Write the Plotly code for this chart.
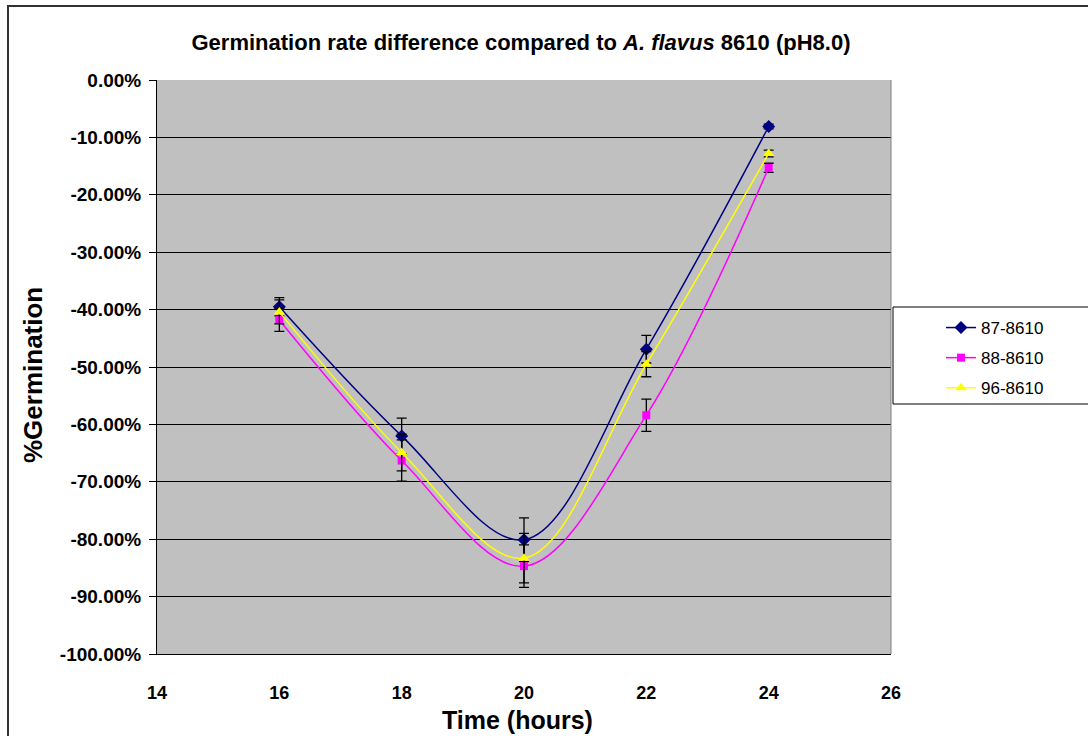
import plotly.graph_objects as go

# Sampling times (hours)
hours = [16, 18, 20, 22, 24]

# Germination rate difference relative to A. flavus 8610 (fraction)
s87 = [-0.395, -0.620, -0.801, -0.469, -0.081]
s88 = [-0.418, -0.663, -0.847, -0.584, -0.153]
s96 = [-0.404, -0.649, -0.833, -0.495, -0.128]

# Error bar half-lengths (fraction)
e87 = [0.016, 0.031, 0.038, 0.024, 0.004]
e88 = [0.020, 0.036, 0.037, 0.028, 0.008]
e96 = [0.021, 0.032, 0.043, 0.022, 0.006]

series_names = ["87-8610", "88-8610", "96-8610"]

y_tickvals = [0.0, -0.1, -0.2, -0.3, -0.4, -0.5, -0.6, -0.7, -0.8, -0.9, -1.0]
y_ticktext = ["0.00%", "-10.00%", "-20.00%", "-30.00%", "-40.00%", "-50.00%",
              "-60.00%", "-70.00%", "-80.00%", "-90.00%", "-100.00%"]
x_tickvals = [14, 16, 18, 20, 22, 24, 26]

FONT = "Liberation Sans, Arial, sans-serif"

styles = [
    dict(color="#000080", symbol="diamond", size=10),
    dict(color="#FF00FF", symbol="square", size=8),
    dict(color="#FFFF00", symbol="triangle-up", size=10),
]

fig = go.Figure()
for name, ys, errs, st in zip(series_names, [s87, s88, s96], [e87, e88, e96], styles):
    fig.add_trace(go.Scatter(
        x=hours, y=ys, name=name, legendgroup=name,
        mode="lines+markers",
        line=dict(color=st["color"], width=1.5, shape="spline", smoothing=1.0),
        marker=dict(color=st["color"], symbol=st["symbol"], size=st["size"],
                    line=dict(width=0)),
        error_y=dict(type="data", array=errs, visible=True,
                     color="black", thickness=1.3, width=5),
    ))

W, H = 1088, 736
L, R, T, B = 157, 197, 80, 82
pw, ph = W - L - R, H - T - B


def px_x(p):
    return (p - L) / pw


def px_y(p):
    return (H - B - p) / ph


fig.update_layout(
    width=W, height=H,
    margin=dict(l=L, r=R, t=T, b=B),
    paper_bgcolor="white",
    plot_bgcolor="#C0C0C0",
    font=dict(family=FONT, color="black"),
    title=dict(
        text="Germination rate difference compared to <i>A. flavus</i> 8610 (pH8.0)",
        font=dict(family=FONT, size=22, weight="bold", color="black"),
        xref="paper", x=px_x(521), xanchor="center",
        yref="container", y=1 - 42 / H, yanchor="middle",
    ),
    xaxis=dict(
        range=[14, 26], tickvals=x_tickvals, ticks="",
        showgrid=False, zeroline=False,
        showline=True, linecolor="black", linewidth=1,
        tickfont=dict(family=FONT, size=18, weight="bold"),
        ticklabelstandoff=22,
    ),
    yaxis=dict(
        range=[-1.0, 0.0], tickvals=y_tickvals, ticktext=y_ticktext,
        ticks="outside", ticklen=7, tickcolor="black", tickwidth=1,
        showgrid=True, gridcolor="black", gridwidth=1, zeroline=False,
        showline=True, linecolor="black", linewidth=1,
        tickfont=dict(family=FONT, size=19, weight="bold"),
        ticklabelstandoff=4,
    ),
    legend=dict(
        x=px_x(941), y=px_y(310), xanchor="left", yanchor="top",
        bgcolor="rgba(0,0,0,0)", borderwidth=0,
        font=dict(family=FONT, size=17, color="black"),
        tracegroupgap=5,
    ),
    annotations=[
        dict(text="Time (hours)", xref="paper", yref="paper",
             x=px_x(517), y=px_y(720), xanchor="center", yanchor="middle",
             showarrow=False, font=dict(family=FONT, size=25, weight="bold")),
        dict(text="%Germination", xref="paper", yref="paper",
             x=px_x(33), y=px_y(375), xanchor="center", yanchor="middle",
             textangle=-90,
             showarrow=False, font=dict(family=FONT, size=26, weight="bold")),
    ],
    shapes=[
        # outer chart border
        dict(type="rect", xref="paper", yref="paper",
             x0=px_x(8), x1=px_x(1100), y0=px_y(6), y1=px_y(760),
             line=dict(color="#333333", width=2), layer="above"),
        # plot area frame (right edge)
        dict(type="line", xref="paper", yref="paper",
             x0=1, x1=1, y0=0, y1=1, line=dict(color="#808080", width=1)),
        # legend box
        dict(type="rect", xref="paper", yref="paper",
             x0=px_x(893), x1=px_x(1100), y0=px_y(307), y1=px_y(404),
             line=dict(color="black", width=1), fillcolor="white", layer="above"),
    ],
)

fig.write_html("out.html")
